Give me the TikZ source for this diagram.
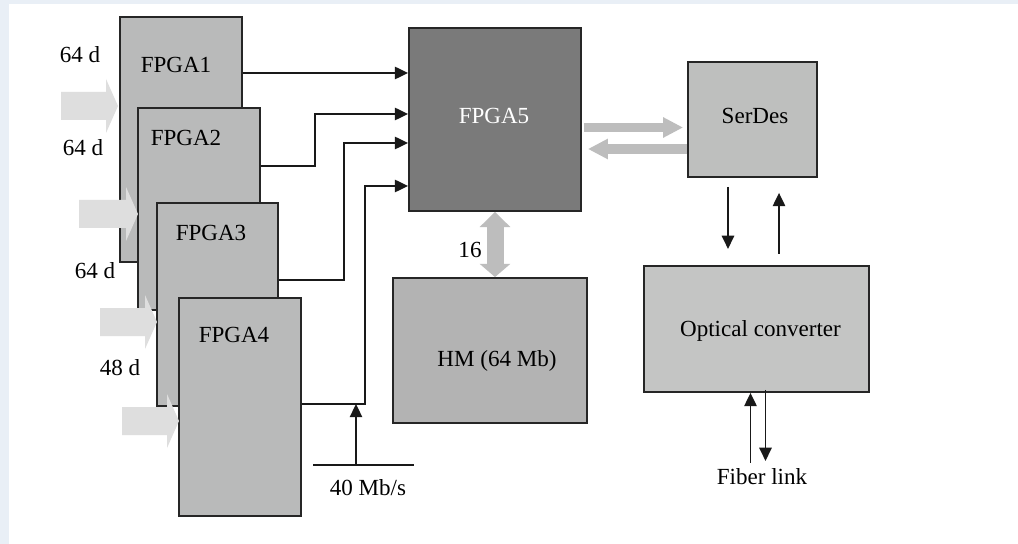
\documentclass[tikz,border=0pt]{standalone}
\usepackage{fontspec}
\setmainfont{Liberation Serif}
\usetikzlibrary{arrows.meta}

\definecolor{framebg}{HTML}{E9EFF6}
\definecolor{fpgagray}{HTML}{B9BABA}
\definecolor{maingray}{HTML}{7A7A7A}
\definecolor{serdesgray}{HTML}{BEBFBE}
\definecolor{optgray}{HTML}{C4C5C4}
\definecolor{memgray}{HTML}{B3B3B3}
\definecolor{inputgray}{HTML}{DEDEDE}
\definecolor{linkgray}{HTML}{BDBDBD}
\definecolor{edgegray}{HTML}{262626}

\tikzset{
    box/.style={draw=edgegray, line width=1.3pt, inner sep=0pt},
    conn/.style={draw=black!90, line width=1.1pt, -{Triangle[length=0.33cm,width=0.31cm]}},
    wide/.style={draw=linkgray, line width=0.23cm, -{Triangle[length=0.5cm,width=0.48cm]}},
}

\begin{document}
\begin{tikzpicture}[x=0.025cm, y=-0.025cm, font=\fontsize{16.4}{19}\selectfont]
    % Page and frame
        \useasboundingbox (0,0) rectangle (1018,544);
        \fill[white] (0,0) rectangle (1018,544);
        \fill[framebg] (0,0) rectangle (9,544);
        \fill[framebg] (0,0) rectangle (1018,4);

        % Stacked input FPGAs
        \node[box, fill=fpgagray, minimum width=3.05cm, minimum height=6.125cm] (fpga1) at (181,139.5) {};
        \node[box, fill=fpgagray, minimum width=3.05cm, minimum height=5.05cm] (fpga2) at (199,209) {};
        \node[box, fill=fpgagray, minimum width=3.025cm, minimum height=5.075cm] (fpga3) at (217.5,304.5) {};
        \node[box, fill=fpgagray, minimum width=3.05cm, minimum height=5.45cm] (fpga4) at (240,407) {};

        \node (t1) at (176,64.5) {FPGA1};
        \node (t2) at (186,137.5) {FPGA2};
        \node (t3) at (211,232.5) {FPGA3};
        \node (t4) at (234,334.5) {FPGA4};

        % Data inputs
        \foreach \xa/\xb/\ym in {61/118/106, 79/138/214, 100/157/322, 122/179/421}
            \fill[inputgray] (\xa,\ym-14) -- (\xb-12,\ym-14) -- (\xb-12,\ym-27) -- (\xb,\ym)
                -- (\xb-12,\ym+27) -- (\xb-12,\ym+14) -- (\xa,\ym+14) -- cycle;
        \node (d1) at (80,55) {64 d};
        \node (d2) at (83,148) {64 d};
        \node (d3) at (95,270.5) {64 d};
        \node (d4) at (120,368) {48 d};

        % Main FPGA, memory and link side
        \node[box, fill=maingray, minimum width=4.3cm, minimum height=4.575cm] (fpga5) at (495,119.5) {};
        \node[text=white] (t5) at (494,116) {FPGA5};
        \node[box, fill=serdesgray, minimum width=3.225cm, minimum height=2.875cm] (serdes) at (752.5,119.5) {};
        \node (sdtext) at (755,116) {SerDes};
        \node[box, fill=memgray, minimum width=4.85cm, minimum height=3.625cm] (hm) at (490,350.5) {};
        \node (hmtext) at (497,361) {HM (64 Mb)};
        \node[box, fill=optgray, minimum width=5.625cm, minimum height=3.15cm] (optic) at (756.5,329) {};
        \node (optext) at (760.5,330.5) {Optical converter};

        % FPGA outputs into FPGA5
        \coordinate (in1) at (fpga5.west |- 0,73);
        \coordinate (in2) at (fpga5.west |- 0,114);
        \coordinate (in3) at (fpga5.west |- 0,143);
        \coordinate (in4) at (fpga5.west |- 0,186);
        \draw[conn] (in1 -| fpga1.east) -- (in1);
        \draw[conn] (fpga2.east |- 0,166) -- ++(54,0) |- (in2);
        \draw[conn] (fpga3.east |- 0,280) -- ++(65,0) |- (in3);
        \draw[conn] (fpga4.east |- 0,404) -- ++(63,0) |- (in4);

        % Clock input
        \coordinate (bus) at (356,465);
        \draw[line width=1.1pt, black!90] (313,465) -- (414,465);
        \draw[conn] (bus) -- (bus |- 0,404);
        \node (rate) at (368,488) {40 Mb/s};

        % Wide links
        \draw[wide] ([shift={(2,8)}]fpga5.east) -- ([shift={(-4,8)}]serdes.west);
        \draw[wide] ([shift={(0,29.5)}]serdes.west) -- ([shift={(6,29.5)}]fpga5.east);
        \draw[draw=linkgray, line width=0.425cm, {Triangle[length=0.38cm,width=0.75cm]}-{Triangle[length=0.33cm,width=0.75cm]}]
            (fpga5.south) -- (fpga5.south |- hm.north);
        \node (bits) at (470,249.5) {16};

        % SerDes to optical converter
        \draw[conn] ([shift={(-24.5,9)}]serdes.south) -- ([shift={(-24.5,71)}]serdes.south);
        \draw[conn] ([shift={(26.5,76)}]serdes.south) -- ([shift={(26.5,15)}]serdes.south);

        % Fiber link
        \node (fiber) at (762,477) {Fiber link};
        \draw[conn] ([shift={(-6,70)}]optic.south) -- ([shift={(-6,0)}]optic.south);
        \draw[conn] ([shift={(9,-3)}]optic.south) -- ([shift={(9,68)}]optic.south);

    \end{tikzpicture}
\end{document}
